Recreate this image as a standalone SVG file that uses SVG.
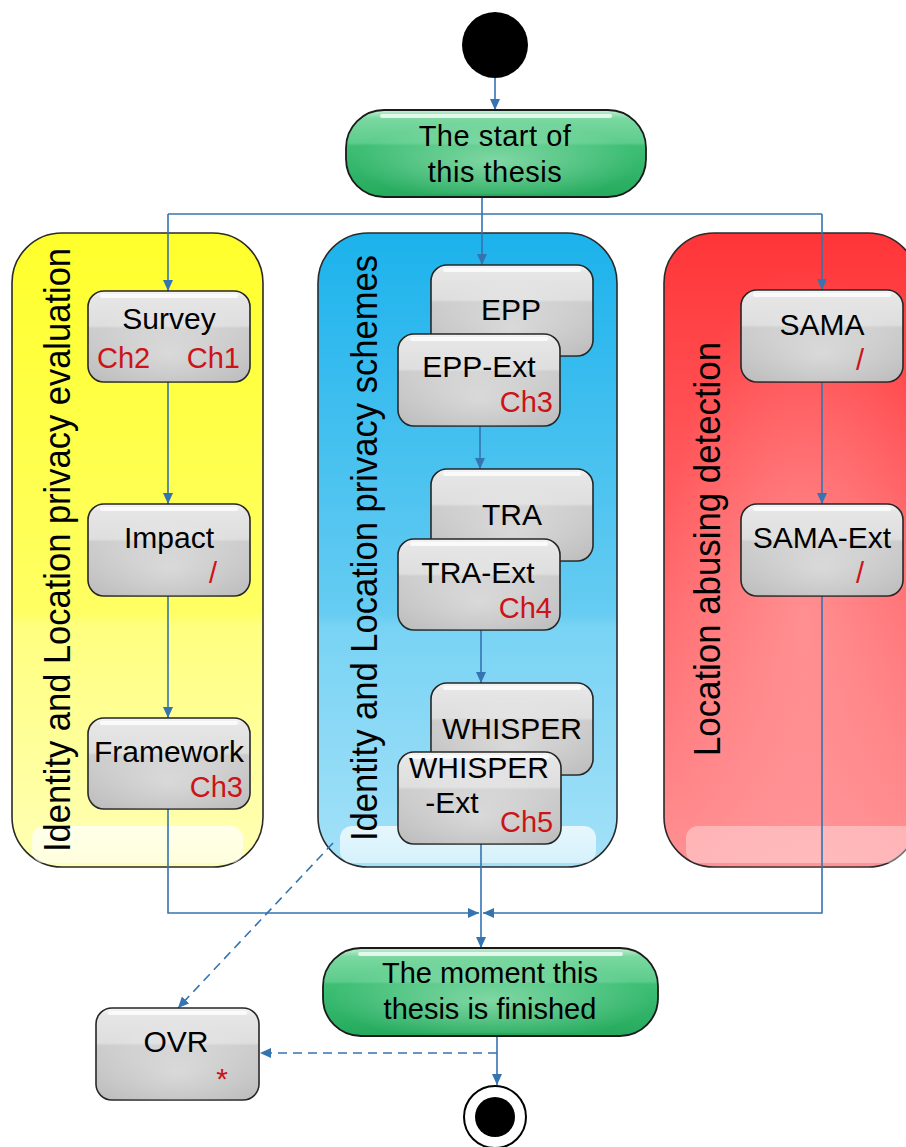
<svg xmlns="http://www.w3.org/2000/svg" width="906" height="1147" viewBox="0 0 906 1147">
  <defs>
    <style>
      .lbl { font-family: "Liberation Sans", Arial, sans-serif; font-size: 30px; fill: #000; text-anchor: middle; }
      .ch { font-family: "Liberation Sans", Arial, sans-serif; font-size: 29px; fill: #cc1318; }
      .lane-lbl { font-family: "Liberation Sans", Arial, sans-serif; font-size: 36px; fill: #000; text-anchor: middle; }
      .term { font-family: "Liberation Sans", Arial, sans-serif; font-size: 29px; fill: #000; text-anchor: middle; }
      .box { fill: url(#greyFill); stroke: #262626; stroke-width: 1.6; }
      .shine { fill: url(#boxShine); }
      .hl { fill: #ffffff; opacity: 0.75; }
      .pill { fill: url(#greenFill); stroke: #1a1a1a; stroke-width: 1.8; }
      .lane { stroke: #2a2a2a; stroke-width: 1.6; }
      .flow { fill: none; stroke: #3474b0; stroke-width: 1.6; }
      .dash { stroke-dasharray: 9 6; }
    </style>
    <linearGradient id="greyFill" x1="0" y1="0" x2="0" y2="1">
      <stop offset="0" stop-color="#f6f6f6"/>
      <stop offset="0.08" stop-color="#e6e6e6"/>
      <stop offset="0.38" stop-color="#dedede"/>
      <stop offset="0.41" stop-color="#cdcdcd"/>
      <stop offset="1" stop-color="#bcbcbc"/>
    </linearGradient>
    <radialGradient id="boxShine" cx="0.5" cy="0.7" r="0.55">
      <stop offset="0" stop-color="#ffffff" stop-opacity="0.35"/>
      <stop offset="1" stop-color="#ffffff" stop-opacity="0"/>
    </radialGradient>
    <linearGradient id="greenFill" x1="0" y1="0" x2="0" y2="1">
      <stop offset="0" stop-color="#c4efd4"/>
      <stop offset="0.1" stop-color="#7ad8a0"/>
      <stop offset="0.38" stop-color="#5ccc8c"/>
      <stop offset="0.41" stop-color="#3fbf76"/>
      <stop offset="1" stop-color="#25aa5d"/>
    </linearGradient>
    <radialGradient id="greenShine" cx="0.5" cy="0.6" r="0.5">
      <stop offset="0" stop-color="#bdf0d0" stop-opacity="0.55"/>
      <stop offset="1" stop-color="#bdf0d0" stop-opacity="0"/>
    </radialGradient>
    <linearGradient id="yellowFill" x1="0" y1="0" x2="0" y2="1">
      <stop offset="0" stop-color="#ffff2c"/>
      <stop offset="0.6" stop-color="#ffff64"/>
      <stop offset="0.62" stop-color="#ffff80"/>
      <stop offset="1" stop-color="#ffffb6"/>
    </linearGradient>
    <linearGradient id="blueFill" x1="0" y1="0" x2="0" y2="1">
      <stop offset="0" stop-color="#1cb2ec"/>
      <stop offset="0.6" stop-color="#66ccf2"/>
      <stop offset="0.62" stop-color="#78d3f4"/>
      <stop offset="1" stop-color="#a4e1f8"/>
    </linearGradient>
    <linearGradient id="redFill" x1="0" y1="0" x2="0" y2="1">
      <stop offset="0" stop-color="#ff3538"/>
      <stop offset="0.55" stop-color="#ff6a6d"/>
      <stop offset="1" stop-color="#ff9194"/>
    </linearGradient>
    <radialGradient id="redShine" cx="0.55" cy="0.6" r="0.55">
      <stop offset="0" stop-color="#ffb0b2" stop-opacity="0.5"/>
      <stop offset="1" stop-color="#ffb0b2" stop-opacity="0"/>
    </radialGradient>
    <linearGradient id="laneGlow" x1="0" y1="0" x2="0" y2="1">
      <stop offset="0" stop-color="#ffffff" stop-opacity="0.75"/>
      <stop offset="1" stop-color="#ffffff" stop-opacity="0.55"/>
    </linearGradient>
    <marker id="arr" markerUnits="userSpaceOnUse" markerWidth="12" markerHeight="10" refX="11" refY="5" orient="auto">
      <path d="M0,0 L11,5 L0,10 Z" fill="#3474b0"/>
    </marker>
  </defs>

  <!-- swimlanes -->
  <g id="lane-evaluation">
    <rect class="lane" x="12" y="233" width="251" height="634" rx="50" fill="url(#yellowFill)"/>
    <rect x="32" y="826" width="211" height="37" rx="12" fill="url(#laneGlow)"/>
    <text class="lane-lbl" transform="translate(70,550) rotate(-90)" textLength="604" lengthAdjust="spacingAndGlyphs">Identity and Location privacy evaluation</text>
  </g>
  <g id="lane-schemes">
    <rect class="lane" x="318" y="233" width="299" height="634" rx="50" fill="url(#blueFill)"/>
    <rect x="340" y="826" width="256" height="37" rx="12" fill="url(#laneGlow)"/>
    <text class="lane-lbl" transform="translate(377,548) rotate(-90)" textLength="586" lengthAdjust="spacingAndGlyphs">Identity and Location privacy schemes</text>
  </g>
  <g id="lane-detection">
    <rect class="lane" x="664" y="233" width="254" height="634" rx="50" fill="url(#redFill)"/>
    <rect x="664" y="233" width="254" height="634" rx="50" fill="url(#redShine)"/>
    <rect x="686" y="826" width="230" height="37" rx="12" fill="#ffffff" opacity="0.35"/>
    <text class="lane-lbl" transform="translate(720,549) rotate(-90)" textLength="414" lengthAdjust="spacingAndGlyphs">Location abusing detection</text>
  </g>

  <!-- connectors -->
  <g id="connectors">
    <line class="flow" x1="495" y1="78" x2="495" y2="110" marker-end="url(#arr)"/>
    <polyline class="flow" points="168,214 822,214"/>
    <line class="flow" x1="482" y1="197" x2="482" y2="265" marker-end="url(#arr)"/>
    <line class="flow" x1="168" y1="214" x2="168" y2="291" marker-end="url(#arr)"/>
    <line class="flow" x1="822" y1="214" x2="822" y2="290" marker-end="url(#arr)"/>
    <line class="flow" x1="168" y1="382" x2="168" y2="504" marker-end="url(#arr)"/>
    <line class="flow" x1="168" y1="596" x2="168" y2="718" marker-end="url(#arr)"/>
    <line class="flow" x1="480" y1="426" x2="480" y2="469" marker-end="url(#arr)"/>
    <line class="flow" x1="481" y1="630" x2="481" y2="683" marker-end="url(#arr)"/>
    <line class="flow" x1="822" y1="382" x2="822" y2="504" marker-end="url(#arr)"/>
    <polyline class="flow" points="168,809 168,913 479,913" marker-end="url(#arr)"/>
    <polyline class="flow" points="822,596 822,913 483,913" marker-end="url(#arr)"/>
    <line class="flow" x1="481" y1="844" x2="481" y2="948" marker-end="url(#arr)"/>
    <line class="flow" x1="497" y1="1036" x2="497" y2="1085" marker-end="url(#arr)"/>
    <line class="flow dash" x1="497" y1="1053" x2="260" y2="1053" marker-end="url(#arr)"/>
    <line class="flow dash" x1="333" y1="843" x2="178" y2="1008" marker-end="url(#arr)"/>
  </g>

  <!-- initial / final states -->
  <g id="initial">
    <circle cx="495" cy="45" r="33" fill="#000"/>
  </g>
  <g id="final">
    <circle cx="495" cy="1117" r="31" fill="#fff" stroke="#000" stroke-width="2"/>
    <circle cx="495" cy="1117" r="20" fill="#000"/>
  </g>

  <g id="start">
    <rect class="pill" x="346" y="110" width="300" height="87" rx="38"/>
    <rect x="352" y="113" width="288" height="81" rx="35" fill="url(#greenShine)"/>
    <rect class="hl" x="380" y="114" width="232" height="4" rx="2"/>
    <text class="term" x="495" y="146" letter-spacing="0.5">The start of</text>
    <text class="term" x="495" y="182" letter-spacing="0.5">this thesis</text>
  </g>

  <g id="survey">
    <rect class="box" x="88" y="291" width="162" height="91" rx="16"/>
    <rect class="shine" x="88" y="291" width="162" height="91" rx="16"/>
    <rect class="hl" x="100" y="294" width="138" height="4" rx="2"/>
    <text class="lbl" x="169" y="329">Survey</text>
    <text class="ch" x="97" y="368">Ch2</text>
    <text class="ch" x="240" y="368" text-anchor="end">Ch1</text>
  </g>
  <g id="impact">
    <rect class="box" x="88" y="504" width="162" height="92" rx="16"/>
    <rect class="shine" x="88" y="504" width="162" height="92" rx="16"/>
    <rect class="hl" x="100" y="507" width="138" height="4" rx="2"/>
    <text class="lbl" x="169" y="548">Impact</text>
    <text class="ch" x="213" y="583" text-anchor="middle">/</text>
  </g>
  <g id="framework">
    <rect class="box" x="88" y="718" width="162" height="91" rx="16"/>
    <rect class="shine" x="88" y="718" width="162" height="91" rx="16"/>
    <rect class="hl" x="100" y="721" width="138" height="4" rx="2"/>
    <text class="lbl" x="169" y="762">Framework</text>
    <text class="ch" x="243" y="797" text-anchor="end">Ch3</text>
  </g>

  <g id="epp">
    <rect class="box" x="431" y="265" width="162" height="91" rx="16"/>
    <rect class="shine" x="431" y="265" width="162" height="91" rx="16"/>
    <rect class="hl" x="443" y="268" width="138" height="4" rx="2"/>
    <text class="lbl" x="511" y="320">EPP</text>
  </g>
  <g id="epp-ext">
    <rect class="box" x="398" y="334" width="162" height="92" rx="16"/>
    <rect class="shine" x="398" y="334" width="162" height="92" rx="16"/>
    <rect class="hl" x="410" y="337" width="138" height="4" rx="2"/>
    <text class="lbl" x="479" y="377">EPP-Ext</text>
    <text class="ch" x="553" y="412" text-anchor="end">Ch3</text>
  </g>
  <g id="tra">
    <rect class="box" x="431" y="469" width="162" height="92" rx="16"/>
    <rect class="shine" x="431" y="469" width="162" height="92" rx="16"/>
    <rect class="hl" x="443" y="472" width="138" height="4" rx="2"/>
    <text class="lbl" x="512" y="525">TRA</text>
  </g>
  <g id="tra-ext">
    <rect class="box" x="398" y="539" width="162" height="91" rx="16"/>
    <rect class="shine" x="398" y="539" width="162" height="91" rx="16"/>
    <rect class="hl" x="410" y="542" width="138" height="4" rx="2"/>
    <text class="lbl" x="478" y="583">TRA-Ext</text>
    <text class="ch" x="552" y="618" text-anchor="end">Ch4</text>
  </g>
  <g id="whisper">
    <rect class="box" x="431" y="683" width="162" height="92" rx="16"/>
    <rect class="shine" x="431" y="683" width="162" height="92" rx="16"/>
    <rect class="hl" x="443" y="686" width="138" height="4" rx="2"/>
    <text class="lbl" x="512" y="739">WHISPER</text>
  </g>
  <g id="whisper-ext">
    <rect class="box" x="398" y="752" width="163" height="92" rx="16"/>
    <rect class="shine" x="398" y="752" width="163" height="92" rx="16"/>
    <rect class="hl" x="410" y="755" width="139" height="4" rx="2"/>
    <text class="lbl" x="479" y="778">WHISPER</text>
    <text class="lbl" x="452" y="813" text-anchor="start">-Ext</text>
    <text class="ch" x="500" y="832">Ch5</text>
  </g>

  <g id="sama">
    <rect class="box" x="741" y="290" width="162" height="92" rx="16"/>
    <rect class="shine" x="741" y="290" width="162" height="92" rx="16"/>
    <rect class="hl" x="753" y="293" width="138" height="4" rx="2"/>
    <text class="lbl" x="822" y="335">SAMA</text>
    <text class="ch" x="860" y="370" text-anchor="middle">/</text>
  </g>
  <g id="sama-ext">
    <rect class="box" x="741" y="504" width="162" height="92" rx="16"/>
    <rect class="shine" x="741" y="504" width="162" height="92" rx="16"/>
    <rect class="hl" x="753" y="507" width="138" height="4" rx="2"/>
    <text class="lbl" x="822" y="548">SAMA-Ext</text>
    <text class="ch" x="860" y="583" text-anchor="middle">/</text>
  </g>

  <g id="finish">
    <rect class="pill" x="323" y="948" width="335" height="88" rx="38"/>
    <rect x="329" y="951" width="323" height="82" rx="35" fill="url(#greenShine)"/>
    <rect class="hl" x="358" y="952" width="265" height="4" rx="2"/>
    <text class="term" x="490" y="983">The moment this</text>
    <text class="term" x="490" y="1019">thesis is finished</text>
  </g>

  <g id="ovr">
    <rect class="box" x="96" y="1008" width="163" height="92" rx="16"/>
    <rect class="shine" x="96" y="1008" width="163" height="92" rx="16"/>
    <rect class="hl" x="108" y="1011" width="139" height="4" rx="2"/>
    <text class="lbl" x="176" y="1052">OVR</text>
    <text class="ch" x="222" y="1089" text-anchor="middle" style="font-size:30px">*</text>
  </g>
</svg>
